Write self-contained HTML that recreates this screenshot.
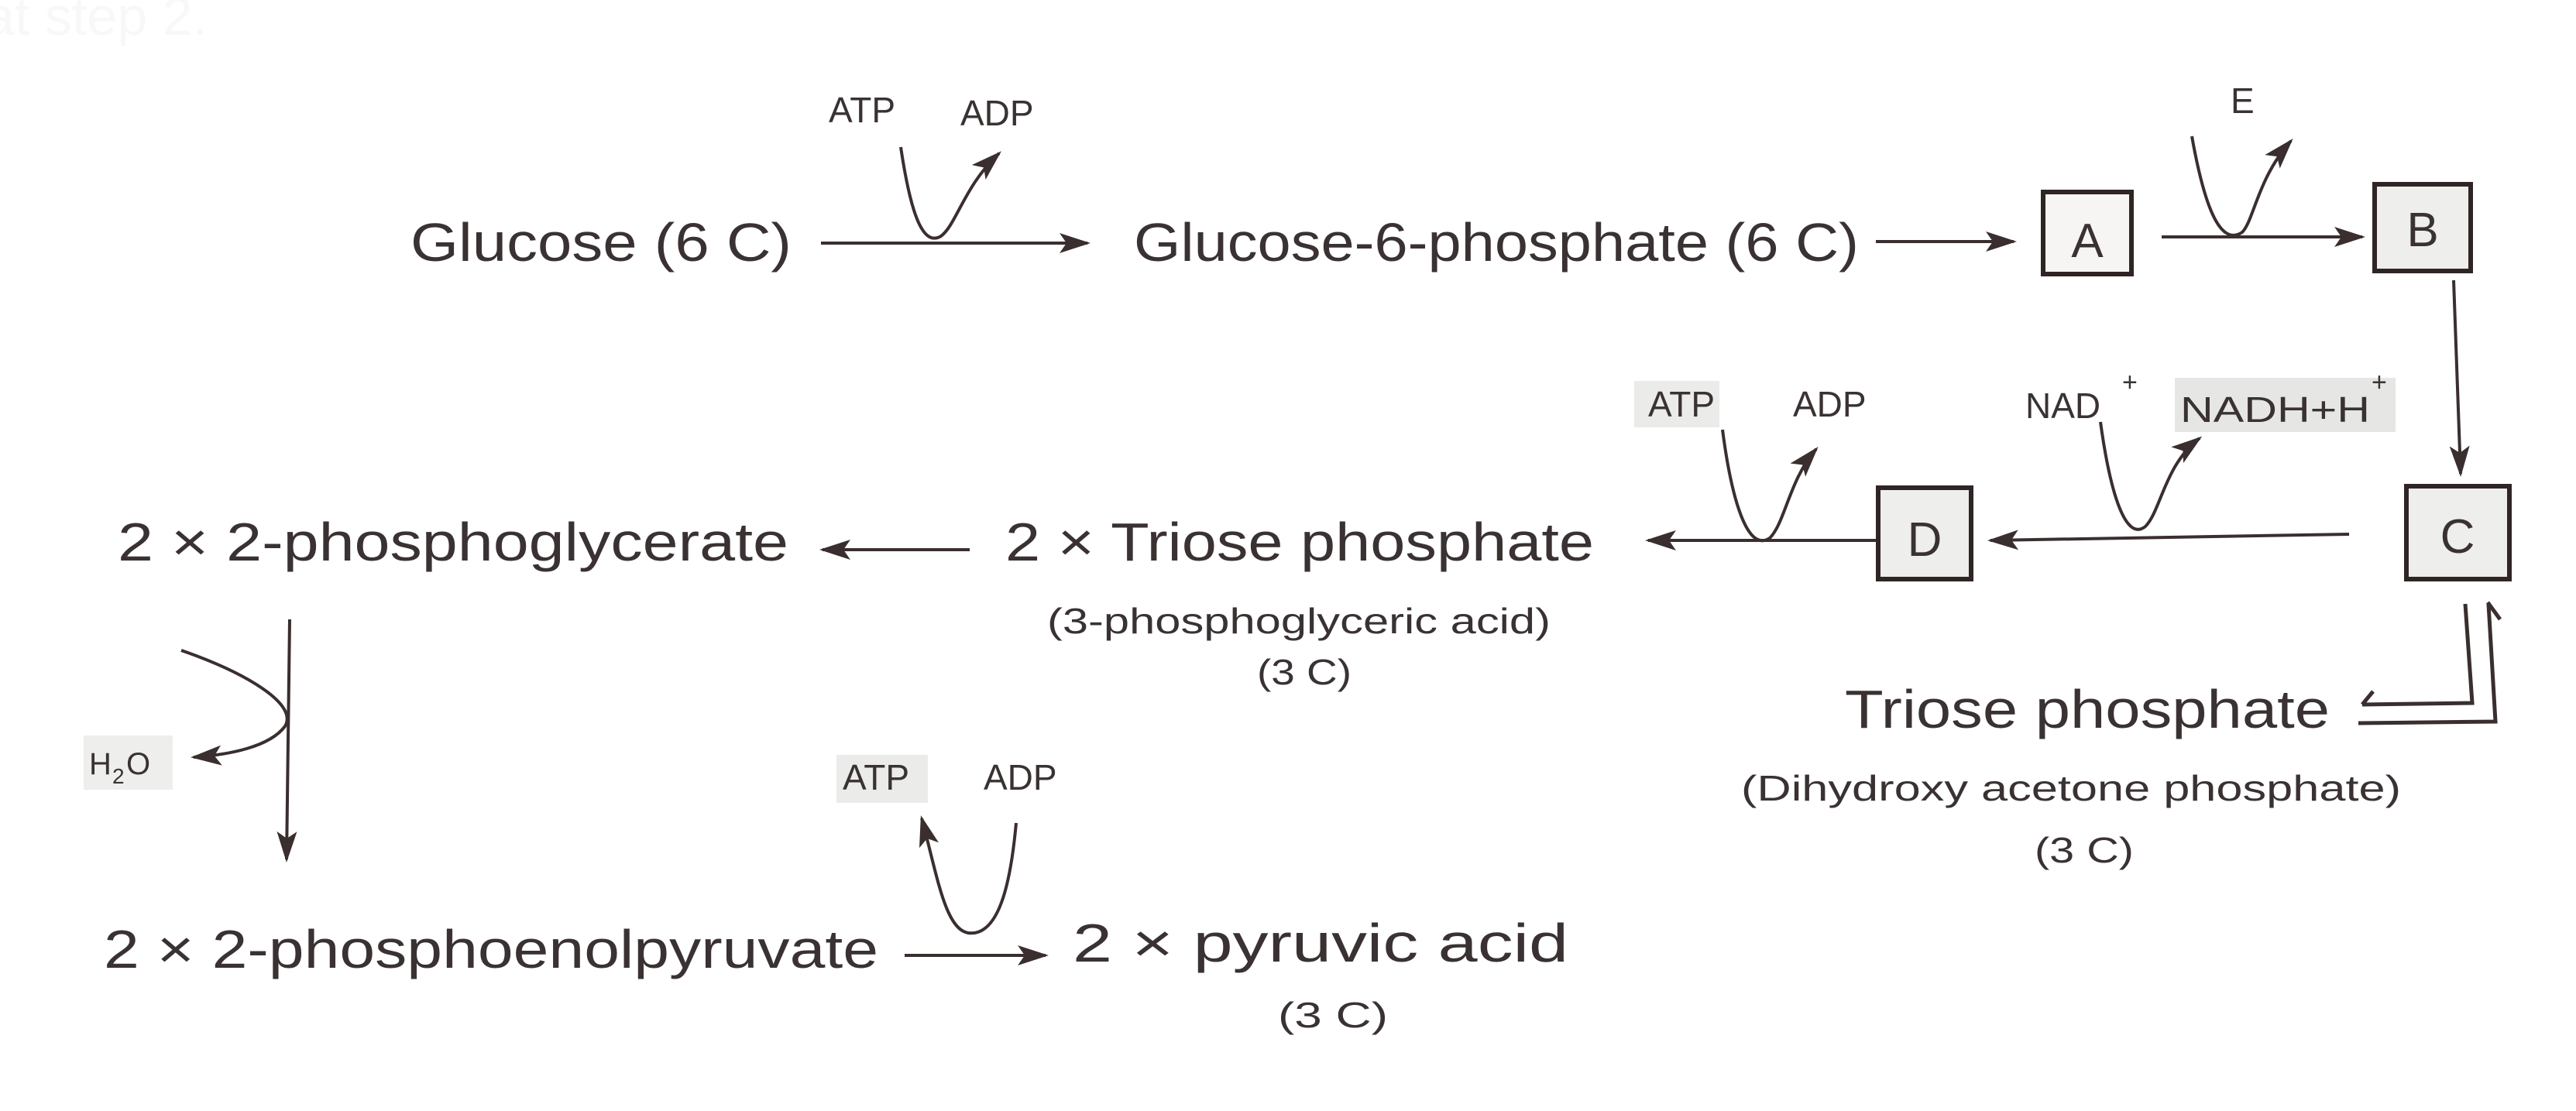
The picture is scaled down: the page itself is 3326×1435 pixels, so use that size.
<!DOCTYPE html>
<html><head><meta charset="utf-8"><style>
html,body{margin:0;padding:0;background:#fff}
svg{display:block}
text{font-family:"Liberation Sans",sans-serif;fill:#3a3232}
</style></head><body>
<svg width="3326" height="1435" viewBox="0 0 3326 1435" xmlns="http://www.w3.org/2000/svg">
<defs>
<marker id="ah" viewBox="0 0 40 26" refX="36" refY="13" markerWidth="40" markerHeight="26" markerUnits="userSpaceOnUse" orient="auto">
<path d="M0,0 L40,13 L0,26 L9,13 Z" fill="#3a2e2e"/></marker>
</defs>
<g stroke="#3a2e2e" stroke-width="4" fill="none">
<line x1="1060" y1="314" x2="1404" y2="314" marker-end="url(#ah)"/>
<path d="M1163,190 C1175,270 1190,320 1215,305 C1235,290 1245,240 1290,198" marker-end="url(#ah)"/>
<line x1="2422" y1="312" x2="2600" y2="312" marker-end="url(#ah)"/>
<line x1="2791" y1="306" x2="3050" y2="306" marker-end="url(#ah)"/>
<path d="M2830,176 C2845,260 2865,320 2895,300 C2910,285 2915,230 2958,182" marker-end="url(#ah)"/>
<line x1="3168" y1="362" x2="3177" y2="612" marker-end="url(#ah)"/>
<line x1="3033" y1="690" x2="2570" y2="698" marker-end="url(#ah)"/>
<path d="M2712,545 C2725,640 2745,700 2770,680 C2790,660 2795,600 2840,566" marker-end="url(#ah)"/>
<line x1="2425" y1="698" x2="2128" y2="698" marker-end="url(#ah)"/>
<path d="M2224,555 C2235,640 2255,715 2285,695 C2305,675 2310,620 2345,580" marker-end="url(#ah)"/>
<line x1="1252" y1="710" x2="1062" y2="710" marker-end="url(#ah)"/>
<line x1="374" y1="800" x2="370" y2="1110" marker-end="url(#ah)"/>
<path d="M234,840 C320,870 385,910 368,938 C348,965 295,975 250,978" marker-end="url(#ah)"/>
<line x1="1168" y1="1234" x2="1350" y2="1234" marker-end="url(#ah)"/>
<path d="M1312,1063 C1305,1140 1290,1210 1250,1205 C1220,1200 1210,1130 1190,1057" marker-end="url(#ah)"/>
<path d="M3183,780 L3192,908 L3050,910" stroke-width="5"/>
<path d="M3213,780 L3222,932 L3045,934" stroke-width="5"/>
<path d="M3212,778 L3228,800" stroke-width="5"/>
<path d="M3050,910 L3064,893" stroke-width="5"/>
</g>
<g stroke="#2f2525" stroke-width="6" fill="#f6f5f4">
<rect x="2638" y="248" width="114" height="106"/>
<rect x="3066" y="238" width="124" height="112" fill="#eeeeec"/>
<rect x="3107" y="628" width="133" height="120" fill="#eeeeec"/>
<rect x="2425" y="630" width="120" height="118" fill="#eeeeec"/>
</g>
<g text-anchor="middle" font-size="62">
<text x="2695" y="332">A</text>
<text x="3128" y="318">B</text>
<text x="3173" y="714">C</text>
<text x="2485" y="718">D</text>
</g>
<text x="-20" y="45" font-size="70" style="fill:#f8f8f8">at step 2.</text>
<g font-size="70">
<text x="530" y="337" textLength="492" lengthAdjust="spacingAndGlyphs">Glucose (6 C)</text>
<text x="1464" y="337" textLength="936" lengthAdjust="spacingAndGlyphs">Glucose-6-phosphate (6 C)</text>
<text x="1298" y="724" textLength="760" lengthAdjust="spacingAndGlyphs">2 × Triose phosphate</text>
<text x="152" y="724" textLength="866" lengthAdjust="spacingAndGlyphs">2 × 2-phosphoglycerate</text>
<text x="134" y="1250" textLength="1000" lengthAdjust="spacingAndGlyphs">2 × 2-phosphoenolpyruvate</text>
<text x="1385" y="1242" textLength="640" lengthAdjust="spacingAndGlyphs">2 × pyruvic acid</text>
<text x="2382" y="940" textLength="626" lengthAdjust="spacingAndGlyphs">Triose phosphate</text>
</g>
<g font-size="46">
<text x="1352" y="818" textLength="650" lengthAdjust="spacingAndGlyphs">(3-phosphoglyceric acid)</text>
<text x="1623" y="884" textLength="122" lengthAdjust="spacingAndGlyphs">(3 C)</text>
<text x="1650" y="1327" textLength="142" lengthAdjust="spacingAndGlyphs">(3 C)</text>
<text x="2248" y="1034" textLength="852" lengthAdjust="spacingAndGlyphs">(Dihydroxy acetone phosphate)</text>
<text x="2627" y="1114" textLength="128" lengthAdjust="spacingAndGlyphs">(3 C)</text>
</g>
<g font-size="46">
<text x="1070" y="158">ATP</text>
<text x="1240" y="162">ADP</text>
<text x="2880" y="146">E</text>
<rect x="2110" y="492" width="110" height="60" fill="#ebebea"/>
<text x="2128" y="538">ATP</text>
<text x="2315" y="538">ADP</text>
<text x="2615" y="540">NAD</text>
<text x="2740" y="505" font-size="34">+</text>
<rect x="2808" y="488" width="285" height="70" fill="#e6e6e5"/>
<text x="2815" y="545" textLength="245" lengthAdjust="spacingAndGlyphs">NADH+H</text>
<text x="3062" y="505" font-size="34">+</text>
<rect x="1080" y="975" width="118" height="62" fill="#ebebea"/>
<text x="1088" y="1020">ATP</text>
<text x="1270" y="1020">ADP</text>
<rect x="108" y="950" width="115" height="70" fill="#eeeeed"/>
<text x="115" y="1000" font-size="40">H</text>
<text x="145" y="1012" font-size="28">2</text>
<text x="163" y="1000" font-size="40">O</text>
</g>
</svg>
</body></html>
